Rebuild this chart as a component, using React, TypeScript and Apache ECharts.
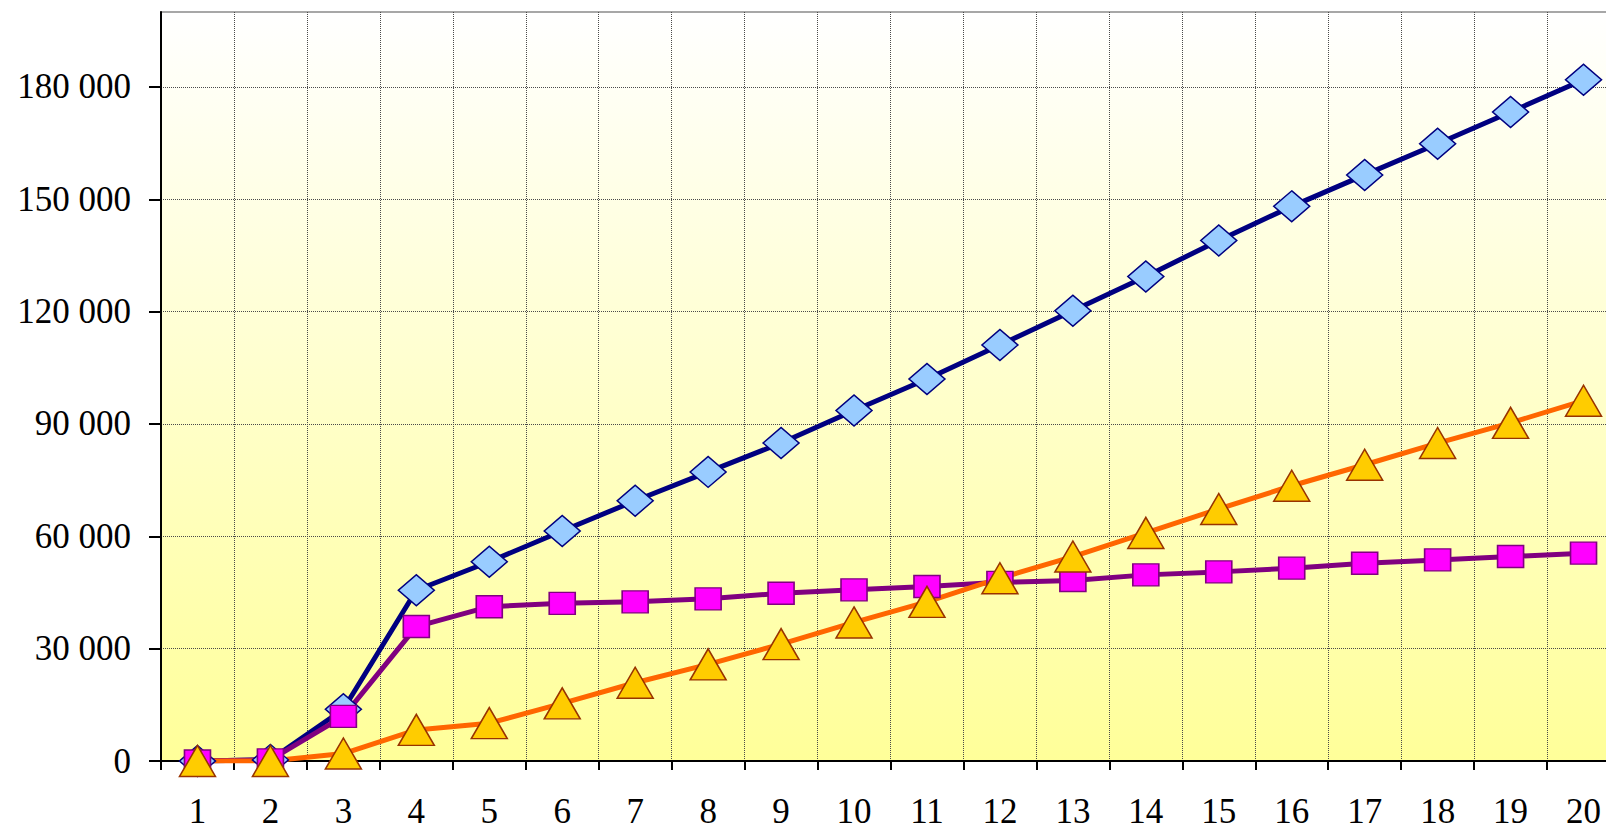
import React, { useEffect, useRef } from "react";
import * as echarts from "echarts";

const categories = ["1","2","3","4","5","6","7","8","9","10","11","12","13","14","15","16","17","18","19","20"];
const diamondSeries = [0, 300, 13800, 45600, 53200, 61400, 69500, 77200, 84900, 93600, 102000, 111100, 120200, 129400, 139000, 148100, 156500, 164800, 173300, 181900];
const squareSeries = [0, 300, 11900, 35900, 41200, 42100, 42500, 43300, 44800, 45700, 46600, 47700, 48200, 49700, 50500, 51500, 52800, 53700, 54600, 55500];
const triangleSeries = [0, 0, 2000, 8300, 10100, 15400, 20900, 25800, 31200, 37000, 42500, 48800, 54600, 60900, 67300, 73500, 79100, 84900, 90300, 96200];
const yTicks = [0, 30000, 60000, 90000, 120000, 150000, 180000];
const yMax = 200000;

const fmt = (v: number) => String(v).replace(/\B(?=(\d{3})+(?!\d))/g, " ");

export default function App() {
  const ref = useRef<HTMLDivElement>(null);
  useEffect(() => {
    if (!ref.current) return;
    const chart = echarts.init(ref.current, null, { renderer: "svg" });
    const font = { fontFamily: "Liberation Serif", fontSize: 35, color: "#000" };
    chart.setOption({
      animation: false,
      backgroundColor: "#fff",
      grid: {
        left: 161,
        top: 12,
        width: 1459,
        bottom: 62,
        outerBoundsMode: "none",
        containLabel: false,
        show: true,
        borderColor: "#8a8a8a",
        borderWidth: 1.5,
        backgroundColor: new echarts.graphic.LinearGradient(0, 0, 0, 1, [
          { offset: 0, color: "#FFFFFF" },
          { offset: 1, color: "#FFFF99" },
        ]),
      },
      xAxis: {
        type: "category",
        data: categories,
        boundaryGap: true,
        axisLine: { show: true, lineStyle: { color: "#000", width: 2 } },
        axisTick: { show: true, length: 9, lineStyle: { color: "#000", width: 2 } },
        axisLabel: { ...font, margin: 33, interval: 0 },
        splitLine: { show: true, lineStyle: { color: "#4a4a4a", type: "dotted", width: 1 } },
      },
      yAxis: {
        type: "value",
        min: 0,
        max: yMax,
        axisLine: { show: true, lineStyle: { color: "#000", width: 2 } },
        axisTick: { show: true, length: 12, customValues: yTicks, lineStyle: { color: "#000", width: 2 } },
        axisLabel: { ...font, margin: 30, customValues: yTicks, formatter: (v: number) => fmt(v) },
        splitLine: { show: true, lineStyle: { color: "#4a4a4a", type: "dotted", width: 1 } },
      },
      series: [
        {
          type: "line",
          data: diamondSeries,
          symbol: "diamond",
          symbolSize: [36, 31],
          lineStyle: { color: "#000080", width: 5 },
          itemStyle: { color: "#99CCFF", borderColor: "#000080", borderWidth: 1.5 },
        },
        {
          type: "line",
          data: squareSeries,
          symbol: "rect",
          symbolSize: [26, 22],
          lineStyle: { color: "#800080", width: 5 },
          itemStyle: { color: "#FF00FF", borderColor: "#800080", borderWidth: 1.5 },
        },
        {
          type: "line",
          data: triangleSeries,
          symbol: "triangle",
          symbolSize: [36, 31],
          lineStyle: { color: "#FF6600", width: 5 },
          itemStyle: { color: "#FFCC00", borderColor: "#993300", borderWidth: 1.5 },
        },
      ],
    });
    return () => chart.dispose();
  }, []);
  return <div ref={ref} style={{ position: "fixed", left: 0, top: 0, width: 1606, height: 823 }} />;
}
